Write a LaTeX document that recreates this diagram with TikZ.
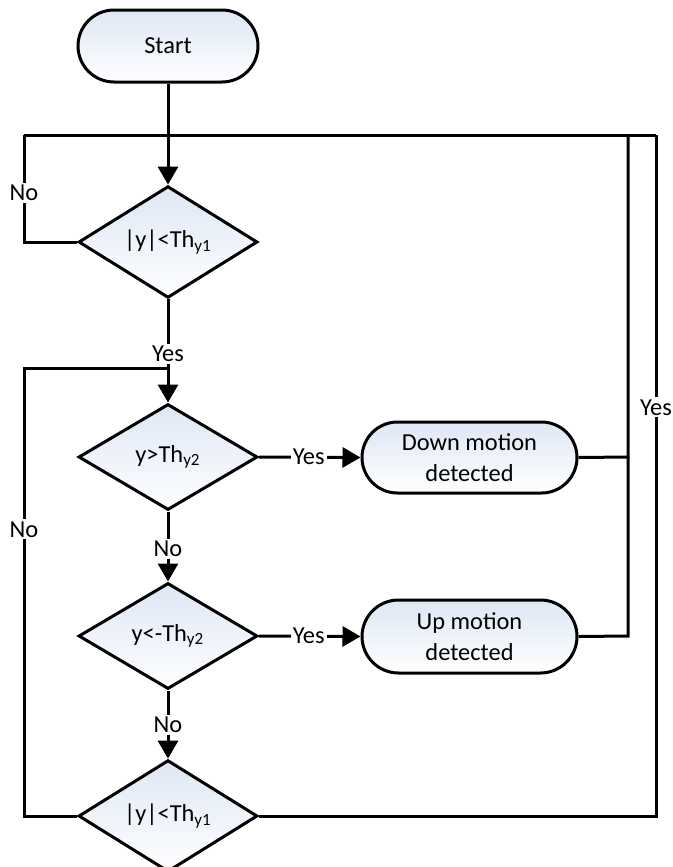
\documentclass[tikz,border=0pt]{standalone}
\usepackage{fontspec}
\setmainfont{Carlito}
\usetikzlibrary{shapes.geometric,shapes.misc,arrows.meta}
\definecolor{boxtop}{RGB}{222,231,245}
\tikzset{
  base/.style={draw=black, line width=1.5pt, top color=boxtop, bottom color=white, font=\fontsize{12.2}{15.5}\selectfont, inner sep=0pt},
  term/.style={base, rounded rectangle, align=center},
  decision/.style={base, diamond, minimum width=89.5pt, minimum height=53pt},
  lbl/.style={fill=white, inner sep=1pt, font=\fontsize{12.2}{14}\selectfont},
  arr/.style={-{Triangle[length=9pt,width=10pt]}},
  conn/.style={line width=1.5pt},
}
\begin{document}
\begin{tikzpicture}[x=0.5pt,y=-0.5pt]
\useasboundingbox (0,0) rectangle (673,867);
% coordinates
\coordinate (tl) at (24,135);
\coordinate (tr) at (656,135);
\coordinate (tm) at (628,135);
\coordinate (ml) at (24,368);
\coordinate (mc) at (168,368);
\coordinate (bl) at (24,816);
\coordinate (br) at (656,816);
\coordinate (rd) at (628,457);
\coordinate (ru) at (628,636);
% nodes
\node[term, minimum width=90pt, minimum height=36pt] (start) at (168,46) {Start};
\node[decision] (d1) at (168,242) {|y|<Th\textsubscript{y1}};
\node[decision] (d2) at (168,457) {y>Th\textsubscript{y2}};
\node[decision] (d3) at (168,636) {y<-Th\textsubscript{y2}};
\node[decision] (d4) at (168,816) {|y|<Th\textsubscript{y1}};
\node[term, minimum width=107.5pt, minimum height=35.5pt] (down) at (469.5,457.5) {Down motion\\detected};
\node[term, minimum width=107.5pt, minimum height=36.5pt] (up) at (469.5,636.5) {Up motion\\detected};
% connectors
\draw[conn] (tl) -- (tr);
\draw[conn, arr] (start.south) -- (d1.north);
\draw[conn] (d1.west) -- (d1.west -| tl) -- node[lbl, pos=0.46]{No} (tl);
\draw[conn, arr] (d1.south) -- node[lbl, pos=0.53]{Yes} (d2.north);
\draw[conn] (d4.west) -- (bl) -- node[lbl, pos=0.64]{No} (ml) -- (mc);
\draw[conn, arr] (d2.east) -- node[lbl, pos=0.49]{Yes} (down.west);
\draw[conn, arr] (d2.south) -- node[lbl, pos=0.53]{No} (d3.north);
\draw[conn, arr] (d3.east) -- node[lbl, pos=0.49]{Yes} (up.west);
\draw[conn, arr] (d3.south) -- node[lbl, pos=0.51]{No} (d4.north);
\draw[conn] (down.east) -- (rd) -- (tm);
\draw[conn] (up.east) -- (ru) -- (rd);
\draw[conn] (d4.east) -- (br) -- node[lbl, pos=0.60]{Yes} (tr);
\end{tikzpicture}
\end{document}
